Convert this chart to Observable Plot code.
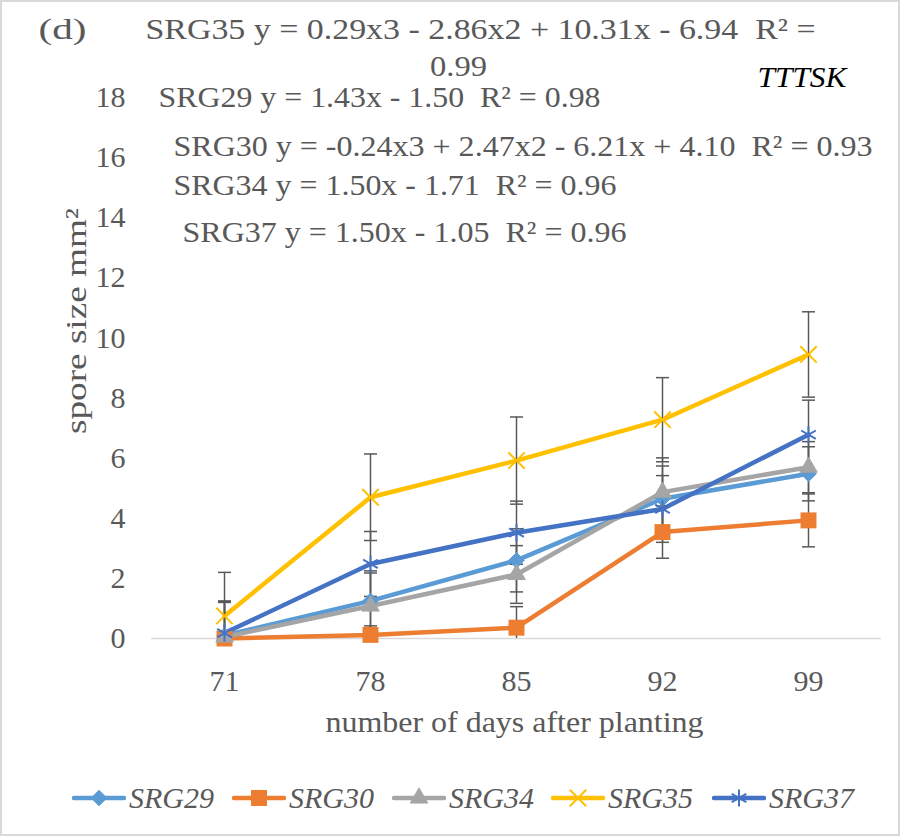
<!DOCTYPE html>
<html><head><meta charset="utf-8">
<script src="https://cdn.jsdelivr.net/npm/d3@7"></script>
<script src="https://cdn.jsdelivr.net/npm/@observablehq/plot@0.6"></script>
<style>
body{margin:0;background:#fff;}
#wrap{position:relative;width:900px;height:836px;font-family:"Liberation Serif","Tinos","Times New Roman","DejaVu Serif",serif;color:#595959;overflow:hidden;}
#chart svg text{white-space:pre;}
#border{position:absolute;left:0;top:0;width:900px;height:836px;box-sizing:border-box;border:2px solid #d9d9d9;pointer-events:none;}
#legend{position:absolute;top:760px;left:0;width:900px;height:76px;}
.item{position:absolute;top:22px;height:32px;display:flex;align-items:center;}
.item span{font-style:italic;font-size:30px;margin-left:3px;line-height:32px;}
</style>
</head><body>
<div id="wrap"><div id="chart"></div><div id="legend"></div><div id="border"></div></div>
<script>
const days = ["71","78","85","92","99"];
const series = ["SRG29","SRG30","SRG34","SRG35","SRG37"];
const colors = ["#5B9BD5","#ED7D31","#A5A5A5","#FFC000","#4472C4"];
const srg29 = [0.10, 1.25, 2.60, 4.65, 5.48];
const srg30 = [0.00, 0.12, 0.36, 3.54, 3.93];
const srg34 = [0.05, 1.08, 2.13, 4.87, 5.70];
const srg35 = [0.75, 4.70, 5.92, 7.28, 9.45];
const srg37 = [0.18, 2.48, 3.52, 4.31, 6.78];
const err29 = [1.10, 1.00, 1.05, 1.09, 0.90];
const err30 = [0.00, 0.30, 0.70, 0.87, 0.88];
const err34 = [1.20, 1.10, 0.96, 1.14, 0.85];
const err35 = [1.45, 1.44, 1.45, 1.40, 1.42];
const err37 = [1.05, 1.08, 1.05, 1.11, 1.15];
const yTicks = [0,2,4,6,8,10,12,14,16,18];
const panelLabel = "(d)";
const eqSRG35a = "SRG35 y = 0.29x3 - 2.86x2 + 10.31x - 6.94  R² =";
const eqSRG35b = "0.99";
const eqSRG29 = "SRG29 y = 1.43x - 1.50  R² = 0.98";
const eqSRG30 = "SRG30 y = -0.24x3 + 2.47x2 - 6.21x + 4.10  R² = 0.93";
const eqSRG34 = "SRG34 y = 1.50x - 1.71  R² = 0.96";
const eqSRG37 = "SRG37 y = 1.50x - 1.05  R² = 0.96";
const cultivar = "TTTSK";
const xTitle = "number of days after planting";
const yTitle = "spore size mm²";

const values = [srg29, srg30, srg34, srg35, srg37];
const errors = [err29, err30, err34, err35, err37];
const symbols = [
  {symbol:"diamond2", r:7, fill:true, sw:1},
  {symbol:"square", r:9, fill:true, sw:0},
  {symbol:"triangle", r:6.5, fill:true, sw:1},
  {symbol:"times", r:7.5, fill:false, sw:2},
  {symbol:"asterisk", r:8, fill:false, sw:2}
];
const table = series.flatMap((s,i)=>days.map((d,j)=>({series:s, day:d, v:values[i][j], e:errors[i][j]})));
const bars = table.filter(d=>d.e>0);
const caps = bars.flatMap(d=>{
  const out=[{day:d.day, y:d.v+d.e}];
  if (d.v-d.e>=0) out.push({day:d.day, y:d.v-d.e});
  return out;
});
const capSymbol = {draw(ctx){ ctx.moveTo(-6.5,0); ctx.lineTo(6.5,0); }};

const txt = (t, o) => Plot.text([t], {text:d=>d, frameAnchor:"top-left", textAnchor:"start", lineAnchor:"middle", fontSize:30, fill:"#595959", ...o});

const marks = [
  Plot.ruleY([0], {stroke:"#D9D9D9", strokeWidth:1.5}),
  ...series.map((s,i)=>Plot.line(table.filter(d=>d.series===s), {x:"day", y:"v", stroke:colors[i], strokeWidth:4.5, strokeLinejoin:"round", strokeLinecap:"round"})),
  Plot.ruleX(bars, {x:"day", y1:d=>Math.max(0,d.v-d.e), y2:d=>d.v+d.e, stroke:"#595959", strokeWidth:1.5}),
  Plot.dot(caps, {x:"day", y:"y", symbol:capSymbol, r:5, fill:"none", stroke:"#595959", strokeWidth:1.5}),
  ...series.map((s,i)=>{
    const m = symbols[i];
    return Plot.dot(table.filter(d=>d.series===s), {x:"day", y:"v", symbol:m.symbol, r:m.r,
      fill: m.fill ? colors[i] : "none", stroke: colors[i], strokeWidth: m.sw});
  }),
  txt(panelLabel, {dx:-113, dy:-68}),
  txt(eqSRG35a, {dx:-6, dy:-68}),
  txt(eqSRG35b, {dx:307, dy:-31, textAnchor:"middle"}),
  txt(cultivar, {dx:606, dy:-20, fontStyle:"italic", fill:"#000"}),
  txt(eqSRG29, {dx:7, dy:0}),
  txt(eqSRG30, {dx:22, dy:49}),
  txt(eqSRG34, {dx:22, dy:88}),
  txt(eqSRG37, {dx:31, dy:135}),
  Plot.text([xTitle], {text:d=>d, frameAnchor:"bottom", textAnchor:"middle", lineAnchor:"middle", dx:-2, dy:84, fontSize:30, fill:"#595959"}),
  Plot.text([yTitle], {text:d=>d, frameAnchor:"left", textAnchor:"middle", lineAnchor:"middle", rotate:-90, dx:-75, dy:-47, fontSize:30, fill:"#595959"})
];

const chart = Plot.plot({
  width:900, height:760,
  marginLeft:151, marginRight:19, marginTop:97, marginBottom:122,
  style:{fontFamily:'"Liberation Serif","Tinos","Times New Roman","DejaVu Serif",serif', fontSize:"30px", color:"#595959", background:"transparent", overflow:"visible"},
  x:{type:"point", domain:days, padding:0.5, label:null, tickSize:0, tickPadding:31},
  y:{domain:[0,18], ticks:yTicks, label:null, tickSize:0, tickPadding:26},
  marks
});
document.getElementById("chart").appendChild(chart);

// stretch annotation text to the widths seen in the reference
const fitWidths = new Map([[eqSRG35a,670],[eqSRG35b,57],[eqSRG29,442],[eqSRG30,699],[eqSRG34,443],[eqSRG37,444],[cultivar,89],[panelLabel,48],[xTitle,378],[yTitle,226]]);
d3.select(chart).selectAll("text").each(function(){
  const w = fitWidths.get(this.textContent);
  if (w) { this.setAttribute("textLength", w); this.setAttribute("lengthAdjust","spacingAndGlyphs"); }
});

// legend
const leg = d3.select("#legend");
const lefts = [72, 232, 392, 551, 712];
const d3sym = {diamond2:d3.symbolDiamond2, square:d3.symbolSquare, triangle:d3.symbolTriangle, times:d3.symbolTimes, asterisk:d3.symbolAsterisk};
series.forEach((s,i)=>{
  const it = leg.append("div").attr("class","item").style("left", lefts[i]+"px");
  const sv = it.append("svg").attr("width",54).attr("height",32);
  sv.append("line").attr("x1",2).attr("x2",52).attr("y1",16).attr("y2",16).attr("stroke",colors[i]).attr("stroke-width",4.5).attr("stroke-linecap","round");
  const m = symbols[i];
  sv.append("path").attr("transform","translate(27,16)")
    .attr("d", d3.symbol(d3sym[m.symbol], m.r*m.r*Math.PI)())
    .attr("fill", m.fill ? colors[i] : "none").attr("stroke", colors[i]).attr("stroke-width", m.sw);
  it.append("span").text(s);
});
</script>
</body></html>
